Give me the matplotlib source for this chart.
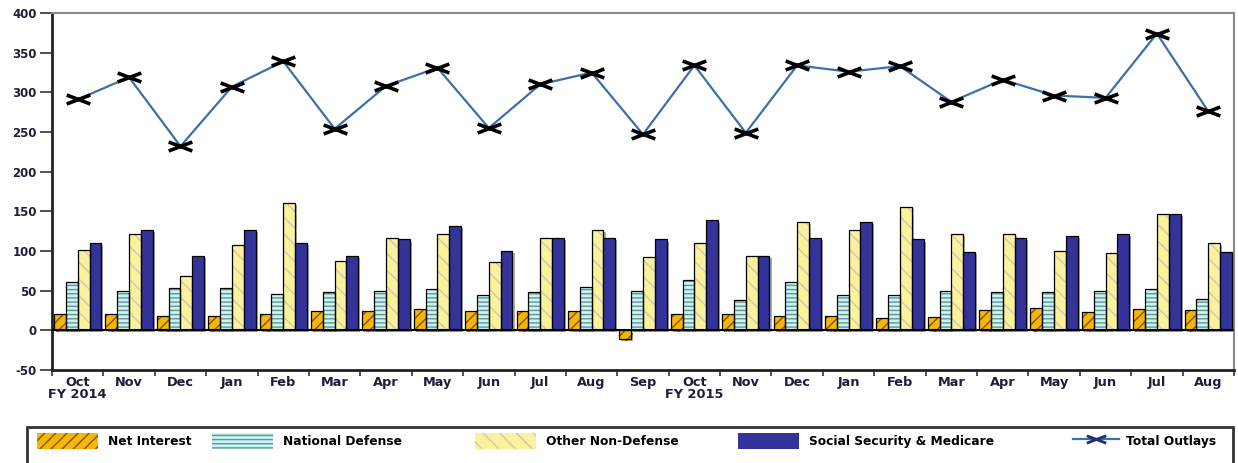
import numpy as np
import matplotlib
matplotlib.use("Agg")
import matplotlib.pyplot as plt
import matplotlib.patches as mpatches
import matplotlib.patheffects as pe
from matplotlib.lines import Line2D
from matplotlib.path import Path

months = ["Oct", "Nov", "Dec", "Jan", "Feb", "Mar", "Apr", "May", "Jun", "Jul", "Aug", "Sep",
          "Oct", "Nov", "Dec", "Jan", "Feb", "Mar", "Apr", "May", "Jun", "Jul", "Aug"]
fy_notes = {0: "FY 2014", 12: "FY 2015"}

net_interest = [21, 21, 18, 18, 21, 24.5, 24.5, 27, 24.5, 24.5, 24.5, -11,
                21, 21, 18, 18, 15, 16.5, 26, 28.5, 23, 27, 26]
national_defense = [61, 50, 53, 53, 46, 48, 50, 51.5, 45, 48, 55, 50,
                    63, 38.5, 61, 45, 45, 50, 48, 48, 50, 51.5, 40]
other_non_defense = [101, 121, 68, 107, 160, 88, 117, 121, 86, 117, 126, 92.5,
                     110, 94, 137, 126, 156, 122, 122, 100, 97.5, 146.5, 110]
ss_medicare = [110, 126, 94, 127, 110, 94, 114.5, 131, 100, 117, 117, 114.5,
               138.5, 94, 117, 137, 114.5, 99, 117, 119, 122, 146.5, 99]
total_outlays = [291, 319, 232, 307, 339, 254, 308, 331, 255, 310, 325, 247,
                 334, 249, 334, 326, 333, 288, 316, 296, 293, 374, 276]

series = [
    ("Net Interest", net_interest, "#F4B800", "///", "#8A4B1E"),
    ("National Defense", national_defense, "#C4F6F4", "----", "#6F8F8F"),
    ("Other Non-Defense", other_non_defense, "#F8F29C", "\\\\", "#D8C6A6"),
    ("Social Security & Medicare", ss_medicare, "#333399", None, "#333399"),
]

text_color = "#1E1E3C"
plt.rcParams["font.family"] = ["DejaVu Sans"]
plt.rcParams["hatch.linewidth"] = 1.0

fig = plt.figure(figsize=(12.38, 4.63), dpi=100)
ax = fig.add_axes([52 / 1238, 1 - 370 / 463, (1234 - 52) / 1238, (370 - 13) / 463])

x = np.arange(len(months))
w = 0.23
offsets = (np.arange(4) - 1.5) * w
shadow = [pe.SimplePatchShadow(offset=(1.5, -1.5), shadow_rgbFace="#555555", alpha=0.5), pe.Normal()]

for (name, vals, fc, hatch, hc), off in zip(series, offsets):
    fill = ax.bar(x + off, vals, w, color=fc, edgecolor=hc, hatch=hatch, linewidth=0, zorder=2)
    for p in fill:
        p.set_path_effects(shadow)
    ax.bar(x + off, vals, w, facecolor="none", edgecolor="black", linewidth=0.9, zorder=3)

# flattened x marker for the total outlays line
xmark = Path([(-1, -0.38), (1, 0.38), (-1, 0.38), (1, -0.38)],
             [Path.MOVETO, Path.LINETO, Path.MOVETO, Path.LINETO])
ax.plot(x, total_outlays, color="#3D6FA8", lw=1.6, zorder=4,
        marker=xmark, markersize=17, markeredgecolor="black", markeredgewidth=2.6,
        markerfacecolor="none")

ax.axhline(0, color="black", lw=1.5, zorder=3)

ax.set_xlim(-0.5, len(months) - 0.5)
ax.set_ylim(-50, 400)
ax.set_yticks(np.arange(-50, 401, 50))
ax.set_yticklabels([str(v) for v in range(-50, 401, 50)], fontsize=8.5,
                   fontweight="bold", color=text_color)
ax.set_xticks(x)
ax.set_xticklabels([m + ("\n" + fy_notes[i] if i in fy_notes else "") for i, m in enumerate(months)],
                   fontsize=9.3, fontweight="bold", color=text_color, linespacing=0.95)
ax.set_xticks(np.arange(-0.5, len(months), 1.0), minor=True)
ax.tick_params(axis="x", which="major", length=0, pad=4)
ax.tick_params(axis="x", which="minor", length=4, width=1.2, direction="out", color="#333333")
ax.tick_params(axis="y", length=9, width=1.2, pad=2, color="#333333")

for s in ("left", "bottom"):
    ax.spines[s].set_color("#222222")
    ax.spines[s].set_linewidth(2)
for s in ("top", "right"):
    ax.spines[s].set_color("#888888")
    ax.spines[s].set_linewidth(1.5)

# legend strip along the bottom edge
fig.patches.append(mpatches.Rectangle((27 / 1238, -0.05), (1233 - 27) / 1238, 0.05 + 1 - 427 / 463,
                                      transform=fig.transFigure, facecolor="white",
                                      edgecolor="#333333", linewidth=2, zorder=0))
leg_y = 1 - 441 / 463
entry_x = [37, 212, 475, 738]
for (name, vals, fc, hatch, hc), ex in zip(series, entry_x):
    h = mpatches.Patch(facecolor=fc, edgecolor=hc, hatch=hatch, linewidth=0)
    fig.legend([h], [name], loc="center left", bbox_to_anchor=(ex / 1238, leg_y),
               frameon=False, borderpad=0, borderaxespad=0, handlelength=5.0,
               handleheight=1.6, handletextpad=0.8,
               prop={"size": 8.8, "weight": "bold"})
line_h = Line2D([], [], color="#3D6FA8", lw=1.6, marker=xmark, markersize=14,
                markeredgecolor="#1E2E6E", markeredgewidth=2, markerfacecolor="none")
fig.legend([line_h], ["Total Outlays"], loc="center left", bbox_to_anchor=(1073 / 1238, leg_y),
           frameon=False, borderpad=0, borderaxespad=0, handlelength=3.8, handleheight=1.6,
           handletextpad=0.5, prop={"size": 8.8, "weight": "bold"})

fig.savefig("out.png", dpi=100)
